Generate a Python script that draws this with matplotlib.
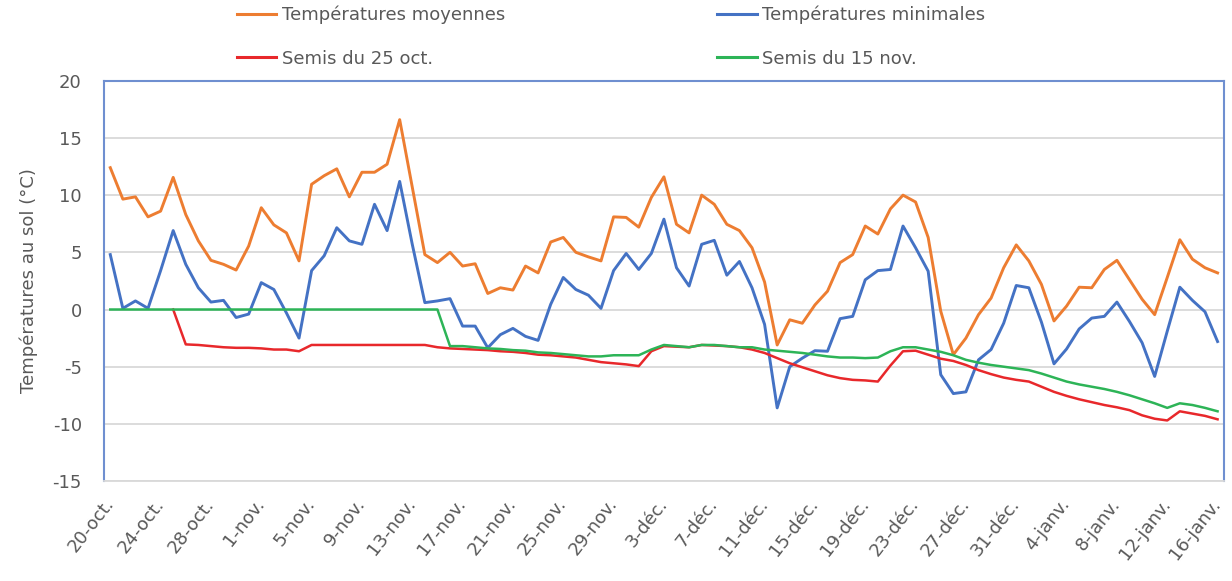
import numpy as np
import matplotlib.pyplot as plt
from matplotlib.lines import Line2D

plt.rcParams['axes.unicode_minus'] = False

# tick labels, one every 4 days from 20 Oct to 16 Jan
tick_labels = ['20-oct.', '24-oct.', '28-oct.', '1-nov.', '5-nov.', '9-nov.',
               '13-nov.', '17-nov.', '21-nov.', '25-nov.', '29-nov.', '3-déc.',
               '7-déc.', '11-déc.', '15-déc.', '19-déc.', '23-déc.', '27-déc.',
               '31-déc.', '4-janv.', '8-janv.', '12-janv.', '16-janv.']

# daily values (89 days)
t_moy = [12.4, 9.65, 9.85, 8.1, 8.6, 11.55, 8.3, 6.0, 4.3, 3.95,
         3.45, 5.55, 8.9, 7.4, 6.7, 4.25, 10.95, 11.7, 12.3, 9.85,
         12.0, 12.0, 12.7, 16.6, 10.7, 4.8, 4.1, 5.0, 3.8, 4.0,
         1.4, 1.9, 1.7, 3.8, 3.2, 5.9, 6.3, 5.0, 4.6, 4.25,
         8.1, 8.05, 7.2, 9.8, 11.6, 7.45, 6.7, 10.0, 9.2, 7.45,
         6.9, 5.4, 2.4, -3.1, -0.9, -1.2, 0.4, 1.6, 4.1, 4.8,
         7.3, 6.6, 8.8, 10.0, 9.4, 6.3, -0.15, -3.95, -2.5, -0.45,
         1.0, 3.65, 5.65, 4.25, 2.2, -1.0, 0.3, 1.95, 1.9, 3.5,
         4.3, 2.6, 0.9, -0.45, 2.8, 6.1, 4.4, 3.65, 3.2]

t_min = [4.8, 0.1, 0.75, 0.1, 3.4, 6.9, 3.95, 1.9, 0.65, 0.8,
         -0.7, -0.4, 2.35, 1.75, -0.3, -2.5, 3.4, 4.7, 7.15, 6.0,
         5.7, 9.2, 6.9, 11.2, 5.7, 0.6, 0.75, 0.95, -1.45, -1.45,
         -3.35, -2.2, -1.65, -2.35, -2.7, 0.45, 2.8, 1.75, 1.25, 0.1,
         3.4, 4.9, 3.5, 4.9, 7.9, 3.65, 2.05, 5.7, 6.05, 3.0,
         4.2, 1.9, -1.3, -8.6, -5.0, -4.25, -3.6, -3.65, -0.8, -0.6,
         2.6, 3.4, 3.5, 7.3, 5.4, 3.35, -5.7, -7.35, -7.2, -4.4,
         -3.5, -1.2, 2.1, 1.9, -1.1, -4.75, -3.45, -1.7, -0.75, -0.6,
         0.65, -1.05, -2.9, -5.85, -1.9, 1.95, 0.8, -0.2, -2.8]

semis_25oct = [np.nan, np.nan, np.nan, np.nan, np.nan, 0, -3.05, -3.1, -3.2, -3.3,
               -3.35, -3.35, -3.4, -3.5, -3.5, -3.65, -3.1, -3.1, -3.1, -3.1,
               -3.1, -3.1, -3.1, -3.1, -3.1, -3.1, -3.3, -3.4, -3.45, -3.5,
               -3.55, -3.65, -3.7, -3.8, -3.95, -4.0, -4.1, -4.2, -4.4, -4.6,
               -4.7, -4.8, -4.95, -3.65, -3.2, -3.25, -3.3, -3.1, -3.15, -3.2,
               -3.3, -3.5, -3.8, -4.25, -4.7, -5.05, -5.4, -5.75, -6.0, -6.15,
               -6.2, -6.3, -4.9, -3.65, -3.6, -3.95, -4.3, -4.5, -4.85, -5.3,
               -5.65, -5.95, -6.15, -6.3, -6.75, -7.2, -7.55, -7.85, -8.1, -8.35,
               -8.55, -8.8, -9.25, -9.55, -9.7, -8.9, -9.1, -9.3, -9.6]

semis_15nov = [0, 0, 0, 0, 0, 0, 0, 0, 0, 0,
               0, 0, 0, 0, 0, 0, 0, 0, 0, 0,
               0, 0, 0, 0, 0, 0, 0, -3.2, -3.2, -3.3,
               -3.4, -3.45, -3.55, -3.6, -3.75, -3.8, -3.9, -4.0, -4.1, -4.1,
               -4.0, -4.0, -4.0, -3.5, -3.1, -3.2, -3.3, -3.1, -3.1, -3.2,
               -3.3, -3.3, -3.5, -3.6, -3.7, -3.8, -3.95, -4.1, -4.2, -4.2,
               -4.25, -4.2, -3.65, -3.3, -3.3, -3.5, -3.7, -4.0, -4.4, -4.65,
               -4.85, -5.0, -5.15, -5.3, -5.6, -5.95, -6.3, -6.55, -6.75, -6.95,
               -7.2, -7.5, -7.85, -8.2, -8.6, -8.2, -8.35, -8.6, -8.9]

x = np.arange(len(t_moy))

fig = plt.figure(figsize=(12.32, 5.81), dpi=100)
ax = fig.add_axes([0.0844, 0.172, 0.909, 0.689])

c_moy = '#ED7D31'
c_min = '#4472C4'
c_25 = '#E8282B'
c_15 = '#2DB457'

ax.plot(x, t_moy, color=c_moy, lw=2.1, zorder=3)
ax.plot(x, t_min, color=c_min, lw=2.1, zorder=4)
ax.plot(x, semis_25oct, color=c_25, lw=1.8, zorder=5)
ax.plot(x, semis_15nov, color=c_15, lw=1.8, zorder=6)

ax.set_xlim(-0.5, len(x) - 0.5)
ax.set_ylim(-15, 20)
ax.set_yticks(range(-15, 21, 5))
ax.set_xticks(x[::4])
ax.set_xticklabels(tick_labels, rotation=52, ha='right', va='center',
                   rotation_mode='anchor')
ax.tick_params(axis='both', length=0, labelsize=13, labelcolor='#595959')
ax.tick_params(axis='x', pad=14)
ax.tick_params(axis='y', pad=16)
ax.grid(axis='y', color='#D9D9D9', lw=1.3)
ax.set_axisbelow(True)

for s in ['top', 'left', 'right']:
    ax.spines[s].set_color('#6F8FD0')
    ax.spines[s].set_linewidth(1.5)
ax.spines['bottom'].set_color('#D9D9D9')
ax.spines['bottom'].set_linewidth(1.3)

ax.set_ylabel('Températures au sol (°C)', fontsize=13, color='#595959',
              labelpad=10)

# legend in two columns, placed like the original
h_moy = Line2D([], [], color=c_moy, lw=2.2)
h_min = Line2D([], [], color=c_min, lw=2.2)
h_25 = Line2D([], [], color=c_25, lw=2.2)
h_15 = Line2D([], [], color=c_15, lw=2.2)
leg_kw = dict(frameon=False, fontsize=13, handlelength=2.2, handletextpad=0.3,
              labelspacing=1.4, borderpad=0, borderaxespad=0, loc='upper left',
              labelcolor='#595959')
fig.legend([h_moy, h_25], ['Températures moyennes', 'Semis du 25 oct.'],
           bbox_to_anchor=(0.192, 0.99), **leg_kw)
fig.legend([h_min, h_15], ['Températures minimales', 'Semis du 15 nov.'],
           bbox_to_anchor=(0.582, 0.99), **leg_kw)

fig.savefig('out.png', dpi=100)
